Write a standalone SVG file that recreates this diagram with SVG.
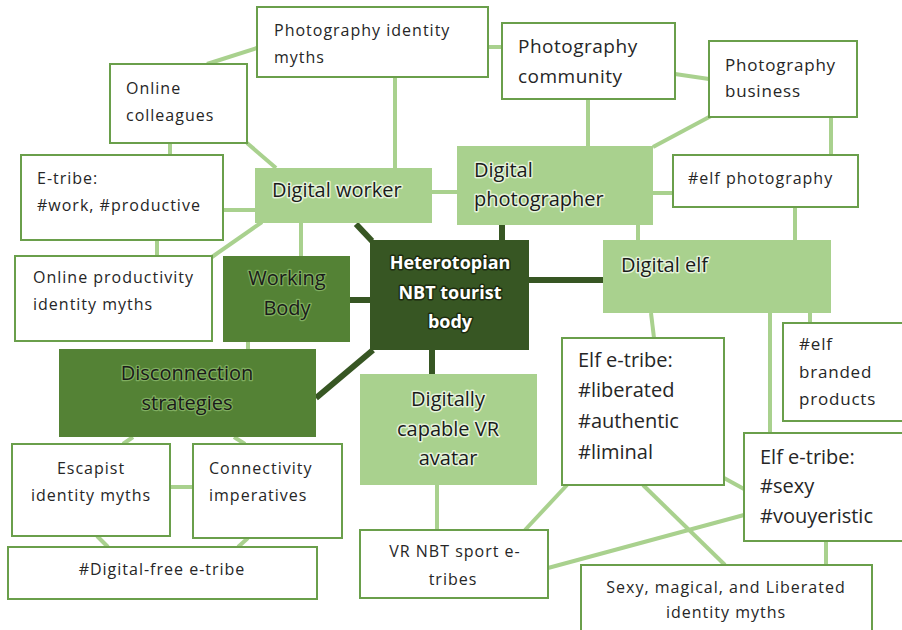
<svg xmlns="http://www.w3.org/2000/svg" width="902" height="630" viewBox="0 0 902 630">
<style>
.w{fill:#ffffff;stroke:#6a9f4b;stroke-width:2}
.lg{fill:#a9d18e}
.mg{fill:#548235}
.dg{fill:#375623}
.c{stroke:#a9d18e;stroke-width:4;fill:none;stroke-linecap:butt}
.cd{stroke:#375623;stroke-width:6;fill:none}
text{font-family:"Open Sans","Liberation Sans",Arial,sans-serif;fill:#262626}
.t16{font-size:16px;letter-spacing:1px}
.t17{font-size:17px;letter-spacing:0.8px}
.t19{font-size:19px;letter-spacing:0.5px}
.t20{font-size:20px}
.gl{font-size:20px;fill:#1a1a1a;stroke:#e4f2da;stroke-width:3px;paint-order:stroke;stroke-linejoin:round}
.gm{font-size:20px;fill:#1a1a1a;stroke:#7fad5f;stroke-width:2.5px;paint-order:stroke;stroke-linejoin:round}
.gd{font-size:18px;font-weight:bold;fill:#ffffff;stroke:#1c2c10;stroke-width:3px;paint-order:stroke;stroke-linejoin:round}
.m{text-anchor:middle}
</style>
<g id="connectors">
<line class="c" x1="257" y1="48" x2="207" y2="64"/>
<line class="c" x1="170" y1="143" x2="170" y2="155"/>
<line class="c" x1="247" y1="143" x2="276" y2="168"/>
<line class="c" x1="395" y1="77" x2="395" y2="168"/>
<line class="c" x1="488" y1="47" x2="502" y2="47"/>
<line class="c" x1="588" y1="99" x2="588" y2="146"/>
<line class="c" x1="675" y1="74" x2="709" y2="79"/>
<line class="c" x1="711" y1="116" x2="653" y2="147"/>
<line class="c" x1="831" y1="117" x2="831" y2="155"/>
<line class="c" x1="653" y1="193" x2="673" y2="193"/>
<line class="c" x1="432" y1="192" x2="457" y2="192"/>
<line class="c" x1="223" y1="210" x2="255" y2="210"/>
<line class="c" x1="212" y1="257" x2="262" y2="222"/>
<line class="c" x1="157" y1="240" x2="157" y2="256"/>
<line class="c" x1="301" y1="222" x2="301" y2="256"/>
<line class="c" x1="248" y1="342" x2="248" y2="349"/>
<line class="c" x1="795" y1="207" x2="795" y2="240"/>
<line class="c" x1="638" y1="225" x2="638" y2="240"/>
<line class="c" x1="651" y1="313" x2="654" y2="338"/>
<line class="c" x1="810" y1="313" x2="810" y2="323"/>
<line class="c" x1="770" y1="313" x2="770" y2="433"/>
<line class="c" x1="724" y1="478" x2="744" y2="489"/>
<line class="c" x1="643" y1="485" x2="725" y2="565"/>
<line class="c" x1="744" y1="515" x2="548" y2="568"/>
<line class="c" x1="567" y1="485" x2="525" y2="530"/>
<line class="c" x1="826" y1="541" x2="826" y2="565"/>
<line class="c" x1="437" y1="485" x2="437" y2="530"/>
<line class="c" x1="123" y1="444" x2="133" y2="437"/>
<line class="c" x1="245" y1="444" x2="234" y2="437"/>
<line class="c" x1="170" y1="487" x2="193" y2="487"/>
<line class="c" x1="97" y1="536" x2="108" y2="547"/>
<line class="c" x1="248" y1="538" x2="238" y2="547"/>
<line class="cd" x1="372" y1="241" x2="356" y2="224"/>
<line class="cd" x1="502" y1="225" x2="502" y2="240"/>
<line class="cd" x1="529" y1="280" x2="603" y2="280"/>
<line class="cd" x1="350" y1="300" x2="370" y2="300"/>
<line class="cd" x1="373" y1="350" x2="316" y2="398"/>
<line class="cd" x1="432" y1="350" x2="432" y2="374"/>
</g>
<g id="photo-identity-myths">
<rect class="w" x="257" y="7" width="231" height="70"/>
<text class="t16" x="274" y="36">Photography identity</text>
<text class="t16" x="274" y="63">myths</text>
</g>
<g id="online-colleagues">
<rect class="w" x="110" y="64" width="137" height="79"/>
<text class="t16" x="126" y="94">Online</text>
<text class="t16" x="126" y="121">colleagues</text>
</g>
<g id="etribe-work">
<rect class="w" x="21" y="155" width="202" height="85"/>
<text class="t16" x="37" y="184">E-tribe:</text>
<text class="t16" x="37" y="211">#work, #productive</text>
</g>
<g id="online-productivity">
<rect class="w" x="15" y="256" width="197" height="85"/>
<text class="t16" x="33" y="283">Online productivity</text>
<text class="t16" x="33" y="310">identity myths</text>
</g>
<g id="digital-worker">
<rect class="lg" x="255" y="168" width="177" height="55"/>
<text class="gl" x="272" y="197">Digital worker</text>
</g>
<g id="working-body">
<rect class="mg" x="223" y="256" width="127" height="86"/>
<text class="gm m" x="287" y="285">Working</text>
<text class="gm m" x="287" y="315">Body</text>
</g>
<g id="disconnection">
<rect class="mg" x="59" y="349" width="257" height="88"/>
<text class="gm m" x="187" y="380">Disconnection</text>
<text class="gm m" x="187" y="410">strategies</text>
</g>
<g id="heterotopian">
<rect class="dg" x="370" y="240" width="159" height="110"/>
<text class="gd m" x="450" y="269">Heterotopian</text>
<text class="gd m" x="450" y="299">NBT tourist</text>
<text class="gd m" x="450" y="328">body</text>
</g>
<g id="digital-photographer">
<rect class="lg" x="457" y="146" width="196" height="79"/>
<text class="gl" x="474" y="177">Digital</text>
<text class="gl" x="474" y="206">photographer</text>
</g>
<g id="photo-community">
<rect class="w" x="502" y="23" width="173" height="76"/>
<text class="t19" x="518" y="53">Photography</text>
<text class="t19" x="518" y="83">community</text>
</g>
<g id="photo-business">
<rect class="w" x="709" y="41" width="148" height="76"/>
<text class="t17" x="725" y="71">Photography</text>
<text class="t17" x="725" y="97">business</text>
</g>
<g id="elf-photography">
<rect class="w" x="673" y="155" width="185" height="52"/>
<text class="t16" x="688" y="184">#elf photography</text>
</g>
<g id="digital-elf">
<rect class="lg" x="603" y="240" width="228" height="73"/>
<text class="gl" x="621" y="272">Digital elf</text>
</g>
<g id="elf-etribe-liberated">
<rect class="w" x="562" y="338" width="162" height="147"/>
<text class="t20" x="578" y="367">Elf e-tribe:</text>
<text class="t20" x="578" y="397">#liberated</text>
<text class="t20" x="578" y="428">#authentic</text>
<text class="t20" x="578" y="459">#liminal</text>
</g>
<g id="elf-branded">
<rect class="w" x="783" y="323" width="130" height="98"/>
<text class="t17" x="799" y="350">#elf</text>
<text class="t17" x="799" y="378">branded</text>
<text class="t17" x="799" y="405">products</text>
</g>
<g id="elf-etribe-sexy">
<rect class="w" x="744" y="433" width="170" height="108"/>
<text class="t20" x="760" y="464">Elf e-tribe:</text>
<text class="t20" x="760" y="493">#sexy</text>
<text class="t20" x="760" y="523">#vouyeristic</text>
</g>
<g id="sexy-magical">
<rect class="w" x="581" y="565" width="291" height="80"/>
<text class="t16 m" x="726" y="593">Sexy, magical, and Liberated</text>
<text class="t16 m" x="726" y="618">identity myths</text>
</g>
<g id="vr-sport">
<rect class="w" x="360" y="530" width="188" height="68"/>
<text class="t16 m" x="455" y="557">VR NBT sport e-</text>
<text class="t16 m" x="453" y="585">tribes</text>
</g>
<g id="vr-avatar">
<rect class="lg" x="360" y="374" width="177" height="111"/>
<text class="gl m" x="448" y="406">Digitally</text>
<text class="gl m" x="448" y="436">capable VR</text>
<text class="gl m" x="448" y="465">avatar</text>
</g>
<g id="escapist">
<rect class="w" x="12" y="444" width="158" height="92"/>
<text class="t16 m" x="91" y="474">Escapist</text>
<text class="t16 m" x="91" y="501">identity myths</text>
</g>
<g id="connectivity">
<rect class="w" x="193" y="444" width="149" height="94"/>
<text class="t16" x="209" y="474">Connectivity</text>
<text class="t16" x="209" y="501">imperatives</text>
</g>
<g id="digital-free">
<rect class="w" x="8" y="547" width="309" height="52"/>
<text class="t16 m" x="162" y="575">#Digital-free e-tribe</text>
</g>
</svg>
